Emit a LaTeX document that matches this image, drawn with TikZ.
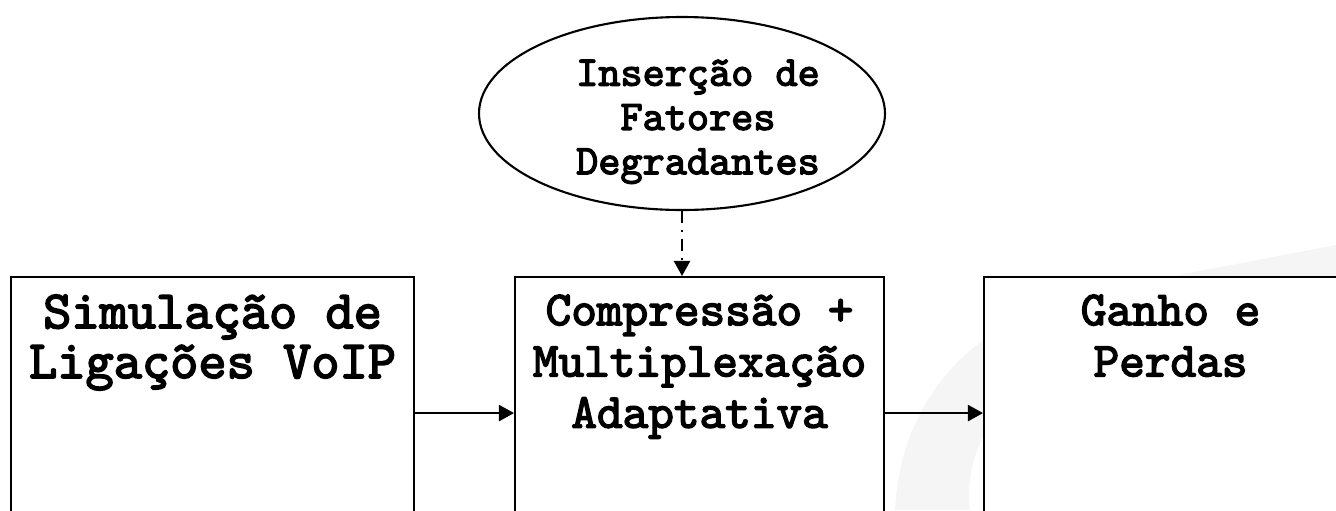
\documentclass[tikz,border=0pt]{standalone}
\usepackage{fontspec}
\newfontfamily\boxfont{lmmono10-regular.otf}[FakeBold=3]
\usetikzlibrary{shapes.geometric,arrows.meta}
\tikzset{
	blockbox/.style={draw,line width=0.6pt,fill=white,minimum height=2.72cm,inner sep=0pt,anchor=north west},
	blocktext/.style={align=center,anchor=north,inner sep=0pt},
	flowarrow/.style={line width=0.6pt,-{Triangle[length=4.3pt,width=4.6pt]}},
}
\begin{document}
\begin{tikzpicture}
			\useasboundingbox (0,0) rectangle (13.36,5.10);
			\clip (0,0) rectangle (13.36,5.10);
			% faint slide backdrop
			\fill[black!4] (8.95,0) .. controls (9.0,1.0) and (9.6,1.9) .. (11.0,2.2) -- (13.36,2.65) -- (13.36,2.3) -- (11.5,1.9) .. controls (10.3,1.6) and (9.6,0.8) .. (9.7,0) -- cycle;
			\node[blockbox,minimum width=4.03cm] (simul) at (0.10,2.34) {};
			\node[blockbox,minimum width=3.69cm] (comp) at (5.14,2.34) {};
			\node[blockbox,minimum width=4.03cm] (ganho) at (9.83,2.34) {};
			\node[draw,ellipse,line width=0.6pt,minimum width=4.06cm,minimum height=1.93cm] (degr) at (6.82,3.965) {};
			\node[blocktext,font=\boxfont\fontsize{15.3}{14.2}\selectfont] (simultxt) at ([yshift=-0.18cm]simul.north) {Simulação de\\Ligações VoIP};
			\node[blocktext,font=\boxfont\fontsize{13.9}{14.6}\selectfont] (comptxt) at ([yshift=-0.18cm]comp.north) {Compressão +\\Multiplexação\\Adaptativa};
			\node[blocktext,font=\boxfont\fontsize{13.9}{14.6}\selectfont] (ganhotxt) at ([xshift=-0.15cm,yshift=-0.18cm]ganho.north) {Ganho e\\Perdas};
			\node[blocktext,font=\boxfont\fontsize{12}{12.6}\selectfont] (degrtxt) at (6.98,4.51) {Inserção de\\Fatores\\Degradantes};
			\draw[flowarrow] (simul) -- (comp);
			\draw[flowarrow] (comp) -- (ganho);
			\draw[flowarrow,dash pattern=on 3.4pt off 2pt on 0.6pt off 2pt] (degr) -- (degr |- comp.north);
		\end{tikzpicture}
\end{document}
